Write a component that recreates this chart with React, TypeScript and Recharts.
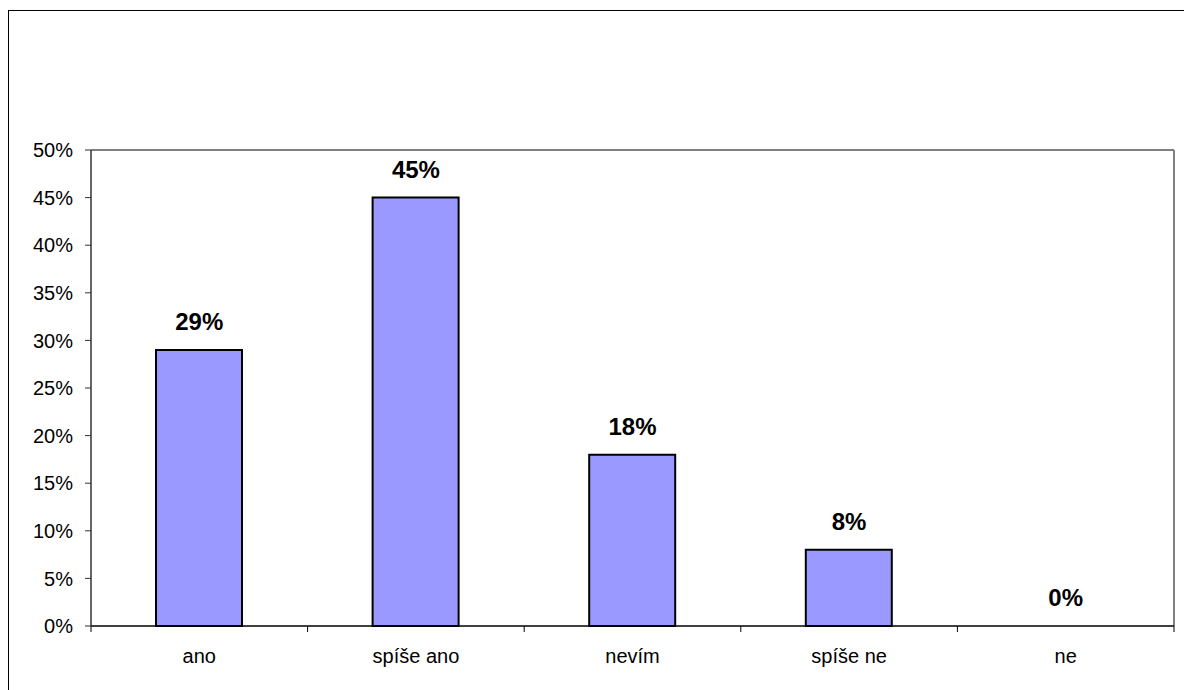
import { Bar, CartesianGrid, ComposedChart, LabelList, Line, XAxis, YAxis } from 'recharts'

const categories = ['ano', 'spíše ano', 'nevím', 'spíše ne', 'ne']
const shares = [29, 45, 18, 8, 0]
const yTicks = [0, 5, 10, 15, 20, 25, 30, 35, 40, 45, 50]

const data = categories.map((name, i) => ({ name, value: shares[i] }))

const FONT = '"Liberation Sans", Arial, sans-serif'
const X_TICK_GAP = 23

function CategoryTick(props: any) {
  const { x, y, payload, index, visibleTicksCount, width } = props
  const half = payload?.offset || width / visibleTicksCount / 2
  const axisY = y - X_TICK_GAP
  const isLast = index === visibleTicksCount - 1
  return (
    <g>
      <line x1={x - half} x2={x - half} y1={axisY} y2={axisY + 6} stroke="#000" strokeWidth={1} />
      {isLast && <line x1={x + half} x2={x + half} y1={axisY} y2={axisY + 6} stroke="#000" strokeWidth={1} />}
      <text x={x} y={y} dy="0.71em" textAnchor="middle" fontSize={20} fontFamily={FONT} fill="#000">
        {payload.value}
      </text>
    </g>
  )
}

export default function App() {
  return (
    <div
      style={{
        position: 'fixed',
        left: 8,
        top: 10,
        width: 1176,
        height: 680,
        borderLeft: '1px solid #000',
        borderTop: '1px solid #000',
        boxSizing: 'border-box',
        background: '#fff',
      }}
    >
      <ComposedChart width={1175} height={679} data={data} margin={{ top: 139, right: 10, bottom: 24, left: 22 }}>
        {/* plot frame: only the top and right edges, grey */}
        <CartesianGrid
          stroke="#808080"
          strokeWidth={2}
          horizontalCoordinatesGenerator={({ offset }: any) => [offset.top]}
          verticalCoordinatesGenerator={({ offset }: any) => [offset.left + offset.width]}
        />
        <XAxis
          dataKey="name"
          height={40}
          tickLine={false}
          tickSize={0}
          tickMargin={X_TICK_GAP}
          interval={0}
          axisLine={{ stroke: '#000', strokeWidth: 1.5 }}
          tick={<CategoryTick />}
        />
        <YAxis
          width={60}
          domain={[0, 50]}
          ticks={yTicks}
          interval={0}
          tickSize={6}
          tickMargin={12}
          tickFormatter={(v) => `${v}%`}
          tick={{ fontSize: 20, fontFamily: FONT, fill: '#000' }}
          tickLine={{ stroke: '#333' }}
          axisLine={{ stroke: '#333', strokeWidth: 1.5 }}
        />
        <Bar dataKey="value" fill="#9999ff" stroke="#000" strokeWidth={2} barSize={86} isAnimationActive={false} />
        {/* invisible series that carries the value labels, so the 0% one is drawn too */}
        <Line dataKey="value" stroke="none" dot={false} activeDot={false} isAnimationActive={false}>
          <LabelList
            dataKey="value"
            position="top"
            offset={20}
            formatter={(v: any) => `${v}%`}
            style={{ fontSize: 24, fontWeight: 'bold', fontFamily: FONT, fill: '#000' }}
          />
        </Line>
      </ComposedChart>
    </div>
  )
}
